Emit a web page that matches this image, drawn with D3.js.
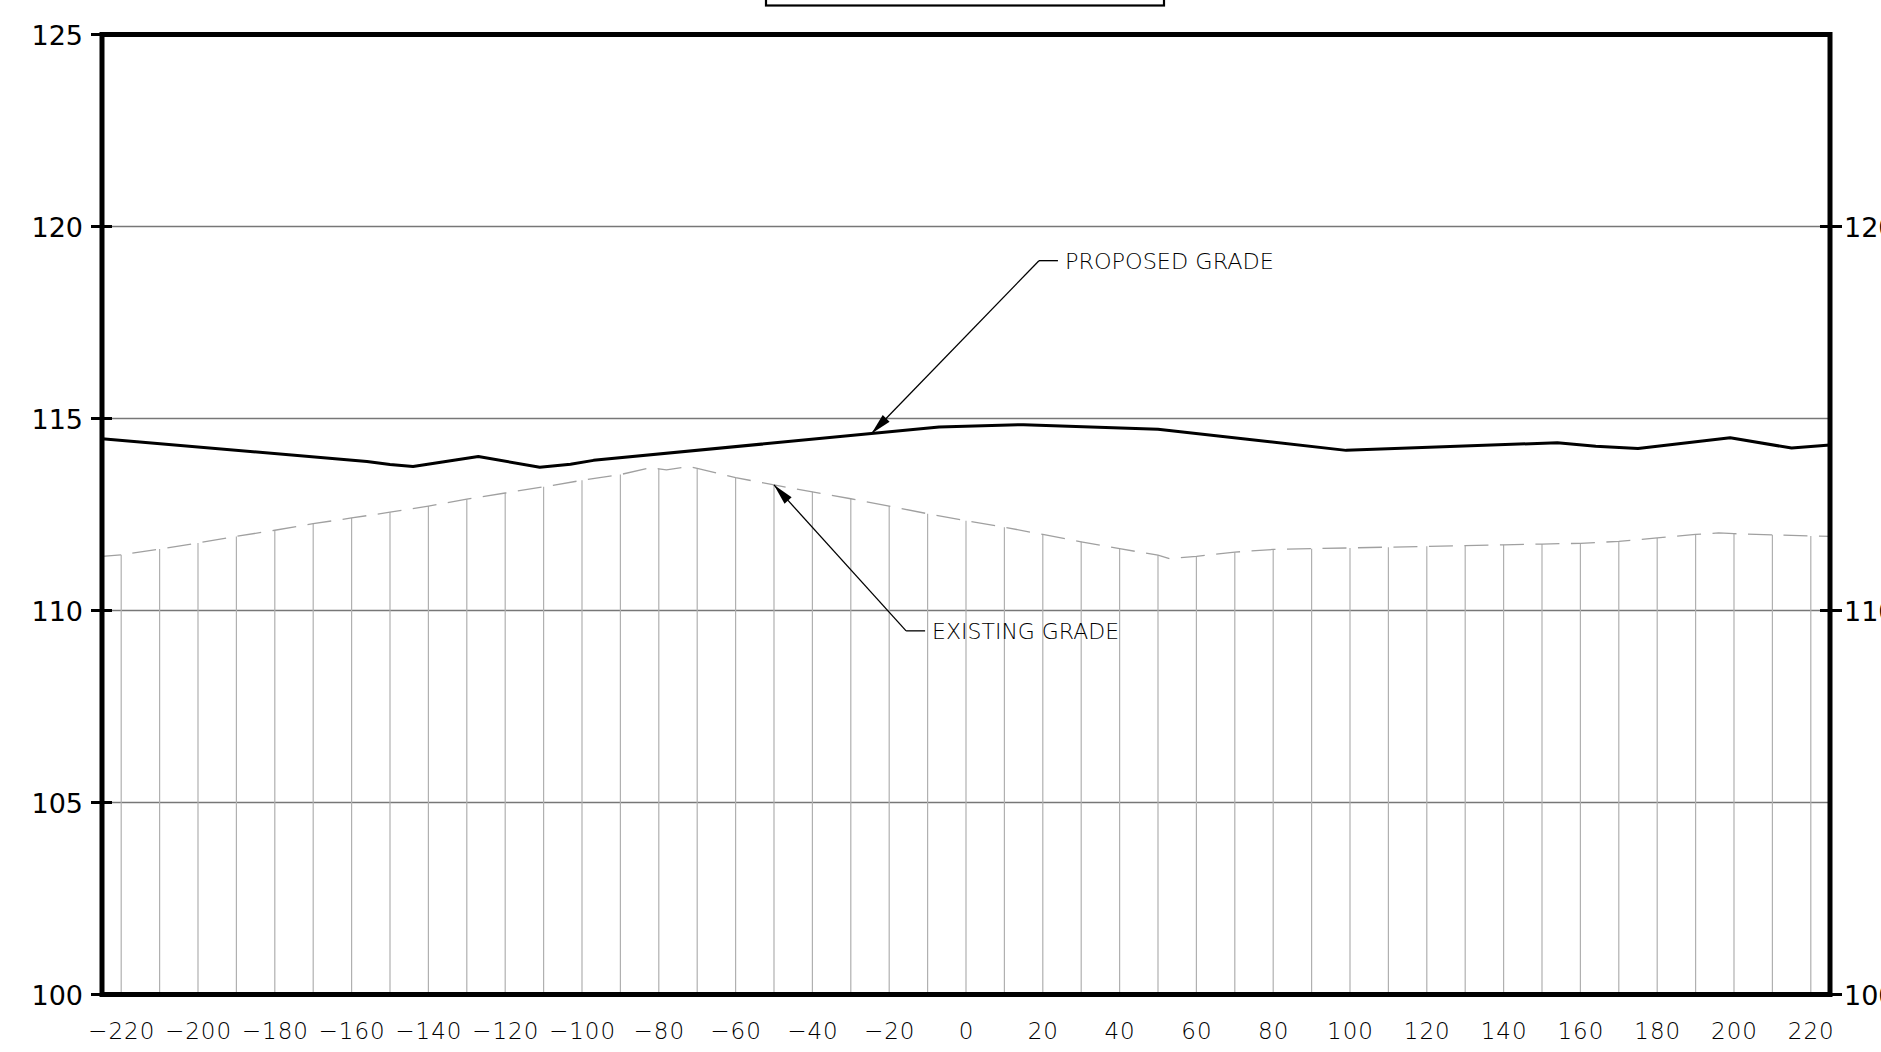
<!DOCTYPE html>
<html>
<head>
<meta charset="utf-8">
<script src="https://cdn.jsdelivr.net/npm/d3@7"></script>
<style>
  html, body { margin: 0; padding: 0; background: #ffffff; }
  svg { display: block; }
</style>
</head>
<body>
<svg id="chart" width="1881" height="1052"></svg>
<script>
// ---------------- DATA ----------------
// Existing grade (station, elevation)
const existingStations = [-225, -220, -210, -200, -190, -180, -170, -160, -150, -140, -130, -120, -110, -100, -90, -82, -80, -78, -72, -70, -60, -50, -40, -30, -20, -10, 0, 10, 20, 30, 40, 50, 53, 60, 70, 80, 90, 100, 110, 120, 130, 140, 150, 160, 170, 180, 190, 196, 200, 210, 220, 225];
const existingElev = [111.41, 111.45, 111.60, 111.76, 111.93, 112.09, 112.26, 112.41, 112.56, 112.72, 112.90, 113.06, 113.22, 113.39, 113.54, 113.72, 113.69, 113.66, 113.75, 113.70, 113.46, 113.27, 113.09, 112.91, 112.72, 112.52, 112.34, 112.17, 111.98, 111.79, 111.61, 111.44, 111.35, 111.41, 111.52, 111.59, 111.61, 111.63, 111.65, 111.67, 111.69, 111.71, 111.73, 111.75, 111.80, 111.89, 111.98, 112.02, 112.00, 111.97, 111.94, 111.93];

// Proposed grade (station, elevation)
const proposedStations = [-225, -156, -150, -144, -127, -111, -103, -97, -7, 15, 50, 99, 154, 164, 175, 199, 215, 225];
const proposedElev = [114.47, 113.88, 113.80, 113.75, 114.01, 113.73, 113.81, 113.91, 114.78, 114.84, 114.72, 114.17, 114.37, 114.28, 114.22, 114.50, 114.23, 114.31];

// Axis ticks
const xTickValues = [-220, -200, -180, -160, -140, -120, -100, -80, -60, -40, -20, 0, 20, 40, 60, 80, 100, 120, 140, 160, 180, 200, 220];
const yLeftTicks = [100, 105, 110, 115, 120, 125];
const yRightTicks = [100, 110, 120];
const gridElev = [105, 110, 115, 120];

// Annotations: leader from a point on the series to an elbow, then label
const annotations = [
  { label: "PROPOSED GRADE", series: "proposed", tipStation: -24.6, elbowStation: 19.0, elbowElev: 119.11 },
  { label: "EXISTING GRADE", series: "existing", tipStation: -50.0, elbowStation: -15.6, elbowElev: 109.47 }
];

// ---------------- CHART ----------------
const svg = d3.select("#chart");
const x = d3.scaleLinear().domain([-225, 225]).range([102, 1830]);
const y = d3.scaleLinear().domain([100, 125]).range([994.5, 34.5]);

const existing = existingStations.map((s, i) => ({ s, e: existingElev[i] }));
const proposed = proposedStations.map((s, i) => ({ s, e: proposedElev[i] }));

const thinFont = "'DejaVu Sans', sans-serif";

// Title box (cut off at top)
svg.append("rect")
  .attr("x", 766).attr("y", -30).attr("width", 398).attr("height", 35.5)
  .attr("fill", "none").attr("stroke", "#000").attr("stroke-width", 2.2);

// Horizontal grid lines
svg.append("g").selectAll("line").data(gridElev).join("line")
  .attr("x1", x(-225)).attr("x2", x(225))
  .attr("y1", d => y(d)).attr("y2", d => y(d))
  .attr("stroke", "#777").attr("stroke-width", 1.3);

// Hatch verticals under existing grade
svg.append("g").selectAll("line")
  .data(existing.filter(d => d.s % 10 === 0 && Math.abs(d.s) <= 220))
  .join("line")
  .attr("x1", d => x(d.s)).attr("x2", d => x(d.s))
  .attr("y1", y(100)).attr("y2", d => y(d.e))
  .attr("stroke", "#b0b0b0").attr("stroke-width", 1.2);

// Existing grade (dashed gray)
const line = d3.line().x(d => x(d.s)).y(d => y(d.e));
svg.append("path").datum(existing)
  .attr("d", line)
  .attr("fill", "none").attr("stroke", "#a0a0a0").attr("stroke-width", 1.3)
  .attr("stroke-dasharray", "24,11.5").attr("stroke-dashoffset", 5);

// Proposed grade (solid black)
svg.append("path").datum(proposed)
  .attr("d", line)
  .attr("fill", "none").attr("stroke", "#000").attr("stroke-width", 3)
  .attr("stroke-linejoin", "round");

// Annotations
function interp(arr, s) {
  for (let i = 0; i < arr.length - 1; i++) {
    const a = arr[i], b = arr[i + 1];
    if (s >= a.s && s <= b.s) return a.e + (b.e - a.e) * (s - a.s) / (b.s - a.s);
  }
  return arr[arr.length - 1].e;
}
const ann = svg.append("g");
annotations.forEach(a => {
  const arr = a.series === "proposed" ? proposed : existing;
  const tx = x(a.tipStation), ty = y(interp(arr, a.tipStation));
  const ex = x(a.elbowStation), ey = y(a.elbowElev);
  ann.append("line").attr("x1", ex).attr("y1", ey).attr("x2", tx).attr("y2", ty)
    .attr("stroke", "#000").attr("stroke-width", 1.3);
  ann.append("line").attr("x1", ex).attr("y1", ey).attr("x2", ex + 19).attr("y2", ey)
    .attr("stroke", "#000").attr("stroke-width", 1.3);
  const ang = Math.atan2(ty - ey, tx - ex) * 180 / Math.PI;
  ann.append("path")
    .attr("d", "M0,0 L-21,-4.8 L-21,4.8 Z")
    .attr("transform", `translate(${tx},${ty}) rotate(${ang})`)
    .attr("fill", "#000");
  ann.append("text")
    .attr("x", ex + 26).attr("y", ey + 8)
    .attr("font-family", thinFont).attr("font-weight", 200)
    .attr("font-size", 22).attr("fill", "#000")
    .attr("textLength", a.label === "PROPOSED GRADE" ? 209 : 187)
    .attr("lengthAdjust", "spacingAndGlyphs")
    .text(a.label);
});

// Left axis labels + ticks
const leftAxis = d3.axisLeft(y).tickValues(yLeftTicks).tickSize(0).tickPadding(19).tickFormat(d3.format("d"));
const gl = svg.append("g").attr("transform", `translate(${x(-225)},0)`).call(leftAxis);
gl.select(".domain").remove();
gl.selectAll("text").attr("font-family", "'DejaVu Sans', sans-serif").attr("font-size", 27).attr("fill", "#000").attr("dy", "0.36em");
svg.append("g").selectAll("line").data(yLeftTicks).join("line")
  .attr("x1", x(-225) - 11).attr("x2", x(-225) + 10)
  .attr("y1", d => y(d)).attr("y2", d => y(d))
  .attr("stroke", "#000").attr("stroke-width", 3);

// Right axis labels + ticks
const rightAxis = d3.axisRight(y).tickValues(yRightTicks).tickSize(0).tickPadding(14).tickFormat(d3.format("d"));
const gr = svg.append("g").attr("transform", `translate(${x(225)},0)`).call(rightAxis);
gr.select(".domain").remove();
gr.selectAll("text").attr("font-family", "'DejaVu Sans', sans-serif").attr("font-size", 27).attr("fill", "#000").attr("dy", "0.36em");
svg.append("g").selectAll("line").data(yRightTicks).join("line")
  .attr("x1", x(225) - 10).attr("x2", x(225) + 12)
  .attr("y1", d => y(d)).attr("y2", d => y(d))
  .attr("stroke", "#000").attr("stroke-width", 3);

// Bottom axis labels
const bottomAxis = d3.axisBottom(x).tickValues(xTickValues).tickSize(0).tickPadding(36);
const gb = svg.append("g").attr("transform", `translate(0,${y(100)})`).call(bottomAxis);
gb.select(".domain").remove();
gb.selectAll("text").attr("font-family", thinFont).attr("font-weight", 200)
  .attr("font-size", 23).attr("fill", "#000").attr("dy", "0.36em")
  .attr("letter-spacing", 1);

// Frame
svg.append("rect")
  .attr("x", x(-225)).attr("y", y(125))
  .attr("width", x(225) - x(-225)).attr("height", y(100) - y(125))
  .attr("fill", "none").attr("stroke", "#000").attr("stroke-width", 5);
</script>
</body>
</html>
